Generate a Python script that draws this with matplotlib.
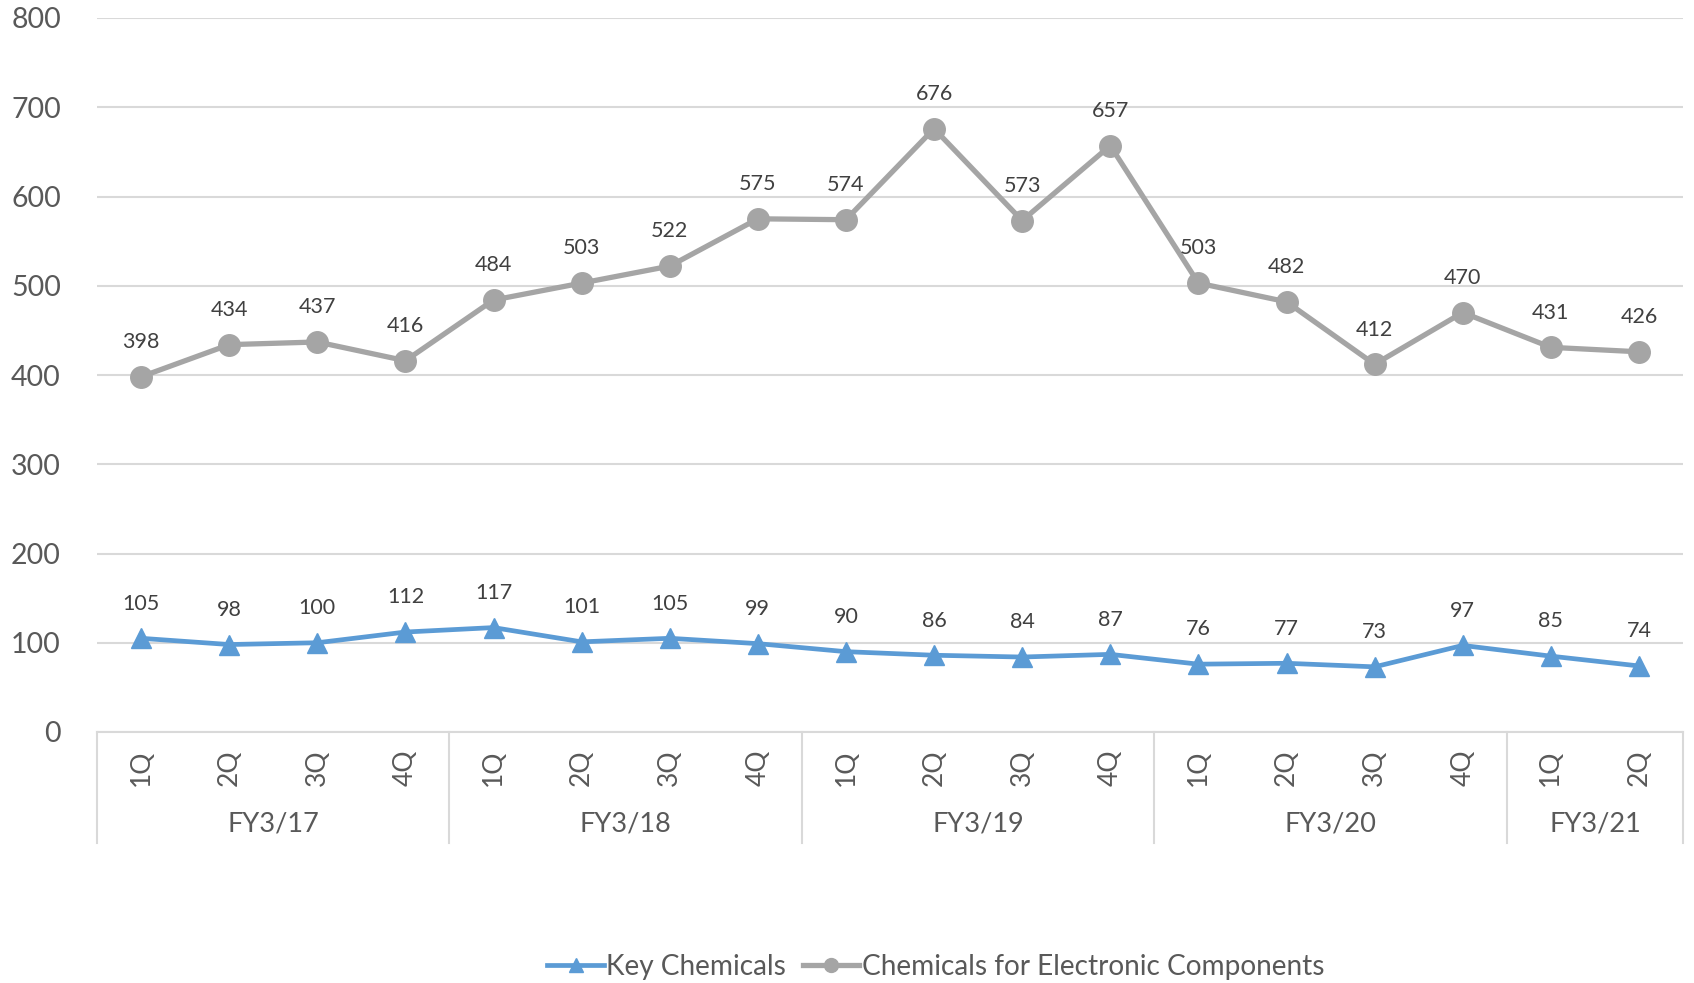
import matplotlib
matplotlib.use("Agg")
import matplotlib.pyplot as plt
import matplotlib.transforms as mtransforms
from matplotlib.lines import Line2D

plt.rcParams['font.family'] = ['Lato', 'DejaVu Sans']

quarters = ["1Q", "2Q", "3Q", "4Q", "1Q", "2Q", "3Q", "4Q", "1Q", "2Q", "3Q", "4Q",
            "1Q", "2Q", "3Q", "4Q", "1Q", "2Q"]
fiscal_years = ["FY3/17", "FY3/18", "FY3/19", "FY3/20", "FY3/21"]
quarters_per_year = [4, 4, 4, 4, 2]

key_chemicals = [105, 98, 100, 112, 117, 101, 105, 99, 90, 86, 84, 87, 76, 77, 73, 97, 85, 74]
electronic = [398, 434, 437, 416, 484, 503, 522, 575, 574, 676, 573, 657, 503, 482, 412, 470, 431, 426]

y_ticks = [0, 100, 200, 300, 400, 500, 600, 700, 800]

BLUE = "#5B9BD5"
GRAY = "#A5A5A5"
GRID = "#D9D9D9"
TICK = "#595959"
LABEL = "#404040"

W, H = 1694, 983
fig = plt.figure(figsize=(W / 100, H / 100), dpi=100)
left, right, bottom, top = 97, 1683, 732, 18
ax = fig.add_axes([left / W, 1 - bottom / H, (right - left) / W, (bottom - top) / H])

x = list(range(len(quarters)))

ax.plot(x, key_chemicals, color=BLUE, lw=3.4, marker="^", ms=15, zorder=3,
        solid_joinstyle="round")
ax.plot(x, electronic, color=GRAY, lw=3.8, marker="o", ms=15.5, zorder=3,
        solid_joinstyle="round")

for xi, v in zip(x, key_chemicals):
    ax.annotate(str(v), (xi, v), xytext=(0, 25), textcoords="offset points",
                ha="center", va="center", fontsize=15.5, color=LABEL)
for xi, v in zip(x, electronic):
    ax.annotate(str(v), (xi, v), xytext=(0, 25), textcoords="offset points",
                ha="center", va="center", fontsize=15.5, color=LABEL)

ax.set_xlim(-0.5, len(quarters) - 0.5)
ax.set_ylim(0, 800)
ax.set_yticks(y_ticks)
ax.set_yticklabels([str(t) for t in y_ticks], fontsize=20.5, color=TICK)
ax.tick_params(axis="y", length=0, pad=26)
ax.yaxis.grid(True, color=GRID, lw=1.5)
ax.set_axisbelow(True)
for side in ["left", "right", "top"]:
    ax.spines[side].set_visible(False)
ax.spines["bottom"].set_color(GRID)
ax.spines["bottom"].set_linewidth(1.5)

# two-level category axis: quarters, then fiscal years with group separators
ax.set_xticks([])
trans = mtransforms.blended_transform_factory(ax.transData, ax.transAxes)
plot_h = bottom - top
q_y = -(768 - bottom) / plot_h
fy_y = -(824 - bottom) / plot_h
sep_y = -(843 - bottom) / plot_h

for xi, q in zip(x, quarters):
    ax.text(xi, q_y, q, transform=trans, rotation=90, ha="center", va="center",
            fontsize=19, color=TICK)

start = 0
bounds = [-0.5]
for fy, n in zip(fiscal_years, quarters_per_year):
    center = start + (n - 1) / 2
    ax.text(center, fy_y, fy, transform=trans, ha="center", va="center",
            fontsize=19.5, color=TICK)
    start += n
    bounds.append(start - 0.5)
for b in bounds:
    ax.plot([b, b], [0, sep_y], transform=trans, color=GRID, lw=1.5, clip_on=False)

handles = [
    Line2D([], [], color=BLUE, lw=3.4, marker="^", ms=10),
    Line2D([], [], color=GRAY, lw=3.8, marker="o", ms=10),
]
fig.legend(handles, ["Key Chemicals", "Chemicals for Electronic Components"],
           loc="center", bbox_to_anchor=(936 / W, 1 - 967 / H), ncol=2,
           frameon=False, fontsize=20.2, labelcolor=TICK, handlelength=2.0,
           handletextpad=0.1, columnspacing=0.6)

fig.savefig("out.png", dpi=100)
